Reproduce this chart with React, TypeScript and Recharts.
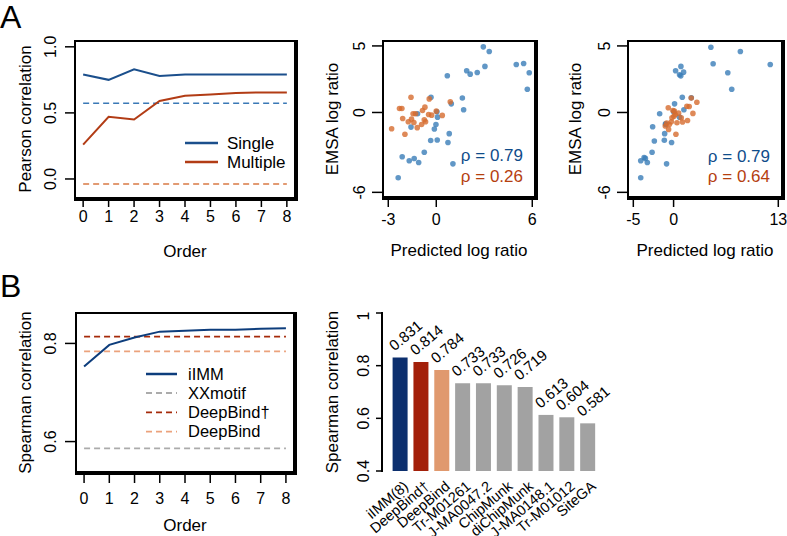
import React from "react";
import {
  LineChart,
  Line,
  ScatterChart,
  Scatter,
  BarChart,
  Bar,
  Cell,
  XAxis,
  YAxis,
  ReferenceLine,
  LabelList,
} from "recharts";

const FONT = "'Liberation Sans', Arial, Helvetica, sans-serif";

// ---- Panel A, left: Pearson correlation by order ----
const orders = [0, 1, 2, 3, 4, 5, 6, 7, 8];
const pearsonSingle = [0.79, 0.75, 0.83, 0.78, 0.79, 0.79, 0.79, 0.79, 0.79];
const pearsonMultiple = [0.26, 0.47, 0.45, 0.59, 0.63, 0.64, 0.65, 0.655, 0.655];
const pearsonSingleRef = 0.573;
const pearsonMultipleRef = -0.038;
const pearsonTicks = [0, 0.5, 1];

// ---- Panel A, middle scatter ----
const a2SingleX = [2.94, 3.31, 3.04, 1.9, 2.12, 2.56, 0.69, 5.0, 5.46, 5.81, 5.69, 1.63, 1.71, 0.94, -0.33, 0.04, 0.08, -0.02, -0.12, -1.17, -1.58, 0.81, 0.73, 0.06, -0.35, -0.75, -2.13, -1.69, -1.38, -1.1, 1.04, -2.38];
const a2SingleY = [4.93, 4.58, 3.46, 3.13, 2.88, 3.0, 2.76, 3.6, 3.68, 2.98, 1.74, 1.09, 0.2, 0.65, 1.14, 0.05, -0.35, -0.9, -1.24, -0.1, -1.1, -1.59, -2.26, -2.07, -2.11, -2.99, -3.33, -3.63, -3.46, -3.76, -3.86, -4.9];
const a2MultiX = [-2.79, -2.3, -2.15, -1.58, -2.1, -1.96, -1.75, -1.45, -1.55, -1.4, -1.19, -0.92, -0.67, -0.86, -0.71, -0.48, -0.29, -0.44, 0.375, 0.875, -1.3, -0.75, 0.0];
const a2MultiY = [-1.22, 0.3, 0.3, 1.14, -0.45, -1.64, -0.7, -0.1, -0.5, -0.75, -1.14, -0.9, -0.7, 0.15, 0.4, -0.15, -0.2, 1.02, -0.22, 0.8, -0.1, -0.55, 0.1];
const a2XTicks = [-3, 0, 6];

// ---- Panel A, right scatter ----
const a3SingleX = [4.63, 8.29, 4.91, 12.0, 6.73, 7.22, 0.91, 0.25, 1.24, 0.74, 0.9, 1.08, 0.12, -1.73, 0.0, 1.28, 0.74, -2.6, -0.99, -1.11, -1.15, -2.39, -0.25, -2.67, -4.08, -3.66, -3.26, -0.87, -4.08, -3.5, -1.0, 2.2];
const a3SingleY = [4.9, 4.58, 3.66, 3.6, 2.98, 1.74, 3.46, 3.13, 3.03, 2.84, 2.75, 1.14, 0.65, -0.1, 0.05, 0.2, -0.35, -1.07, -0.9, -1.59, -2.09, -2.14, -2.26, -2.99, -3.63, -3.38, -3.76, -3.86, -4.9, -3.45, -0.85, 1.1];
const a3MultiX = [2.19, 2.89, 1.94, -0.66, -0.08, 0.21, 0.62, 2.4, 1.73, 1.11, 0.42, -0.28, -0.2, -0.53, -1.03, 0.29, -0.62, 0.04, 0.95, 1.65, -0.85, 0.1];
const a3MultiY = [1.09, 0.77, 0.45, 0.35, 0.15, -0.15, -0.05, -0.07, -0.6, -0.72, -0.77, -0.7, -0.4, -0.9, -1.02, -1.64, -1.27, -0.28, -0.4, 0.47, -0.8, 0.1];
const a3XTicks = [-5, 0, 13];
const emsaTicks = [-6, 0, 5];

// ---- Panel B, left: Spearman correlation by order ----
const iimm = [0.753, 0.797, 0.812, 0.824, 0.826, 0.828, 0.828, 0.83, 0.831];
const xxmotifRef = 0.586;
const deepBindDaggerRef = 0.814;
const deepBindRef = 0.784;
const spearmanLineTicks = [0.6, 0.8];

// ---- Panel B, right: bars ----
const methods = ["iIMM(8)", "DeepBind†", "DeepBind", "Tr-M01261", "J-MA0047.2", "ChipMunk", "diChipMunk", "J-MA0148.1", "Tr-M01012", "SiteGA"];
const spearman = [0.831, 0.814, 0.784, 0.733, 0.733, 0.726, 0.719, 0.613, 0.604, 0.581];
const barColors = ["#0c2f6e", "#a3200a", "#e0996e", "#a2a2a2", "#a2a2a2", "#a2a2a2", "#a2a2a2", "#a2a2a2", "#a2a2a2", "#a2a2a2"];
const barTicks = [0.4, 0.6, 0.8, 1];

const BLUE = "#1b4f8c";
const RED = "#b23c15";
const BLUE_DASH = "#3a79b6";
const RED_DASH = "#d97a44";
const DOT_BLUE = "#3a7db8";
const DOT_RED = "#d66b2e";

const YW = 60;
const MT = 6;
const MR = 6;

type Box = { x0: number; y0: number; x1: number; y1: number };
type Dom = [number, number];
const a1Box: Box = { x0: 75, y0: 41, x1: 295, y1: 198 };
const a2Box: Box = { x0: 383, y0: 41, x1: 535, y1: 197 };
const a3Box: Box = { x0: 628, y0: 41, x1: 782, y1: 197 };
const b1Box: Box = { x0: 76, y0: 313, x1: 294, y1: 472 };
const b2Box: Box = { x0: 382, y0: 313, x1: 598, y1: 471 };

const orderDomain: Dom = [-0.32, 8.32];
const pearsonDomain: Dom = [-0.144, 1.044];
const emsaDomain: Dom = [-6.35, 5.37];
const a2XDomain: Dom = [-3.33, 6.17];
const a3XDomain: Dom = [-5.66, 13.46];
const spearmanDomain: Dom = [0.538, 0.862];
const barDomain: Dom = [0.4, 1];

function frame(b: Box, xh: number, mr = MR) {
  return {
    pos: { position: "absolute" as const, left: b.x0 - YW, top: b.y0 - MT },
    width: b.x1 - b.x0 + YW + mr,
    height: b.y1 - b.y0 + MT + xh,
    margin: { top: MT, right: mr, left: 0, bottom: 0 },
  };
}

const zip = (xs: number[], ys: number[]) => xs.map((x, i) => ({ x, y: ys[i] }));
const a2Single = zip(a2SingleX, a2SingleY);
const a2Multi = zip(a2MultiX, a2MultiY);
const a3Single = zip(a3SingleX, a3SingleY);
const a3Multi = zip(a3MultiX, a3MultiY);
const pearsonData = orders.map((o, i) => ({ order: o, single: pearsonSingle[i], multiple: pearsonMultiple[i] }));
const iimmData = orders.map((o, i) => ({ order: o, iimm: iimm[i] }));
const barData = methods.map((m, i) => ({ name: m, value: spearman[i] }));

// rotated y tick labels, like R's default
const vTick = (gap: number, tickSize: number, fmt: (v: number) => string) => (props: any) => {
  const cx = props.x - (gap - tickSize);
  const cy = props.y;
  return (
    <text x={cx} y={cy} transform={`rotate(-90 ${cx} ${cy})`} textAnchor="middle" dy="0.35em" fontSize={16} fill="#000" fontFamily={FONT}>
      {fmt(props.payload.value)}
    </text>
  );
};
const pearsonTick = vTick(25, 10, (v) => v.toFixed(1));
const emsaTick = vTick(24, 11, (v) => String(v));
const spearmanTick = vTick(26, 11, (v) => v.toFixed(1));
const barYTick = vTick(19, 6, (v) => (v === 1 ? "1" : v.toFixed(1)));

const dot = (color: string) => (p: any) => <circle cx={p.cx} cy={p.cy} r={2.8} fill={color} fillOpacity={0.8} />;
const blueDot = dot(DOT_BLUE);
const redDot = dot(DOT_RED);

const xTickStyle = { fontSize: 16, fill: "#000", fontFamily: FONT };
const tickLineStyle = { stroke: "#000", strokeWidth: 1.5 };

const SlantTick = (props: any) => {
  const px = props.x + 6;
  const py = props.y + 13;
  return (
    <text x={px} y={py} transform={`rotate(-40 ${px} ${py})`} textAnchor="end" dy="0.35em" fontSize={14.5} fill="#000" fontFamily={FONT}>
      {props.payload.value}
    </text>
  );
};

const BarValue = (props: any) => {
  const px = props.x + 2;
  const py = props.y - 6;
  return (
    <text x={px} y={py} transform={`rotate(-40 ${px} ${py})`} fontSize={15} fill="#000" fontFamily={FONT}>
      {Number(props.value).toFixed(3)}
    </text>
  );
};

const fA1 = frame(a1Box, 50);
const fA2 = frame(a2Box, 50);
const fA3 = frame(a3Box, 50);
const fB1 = frame(b1Box, 60);
const fB2 = frame(b2Box, 65, 60);

function PearsonPanel() {
  const f = fA1;
  return (
    <div style={f.pos}>
      <LineChart width={f.width} height={f.height} margin={f.margin} data={pearsonData}>
        <XAxis dataKey="order" type="number" domain={orderDomain} allowDataOverflow ticks={orders} axisLine={false} tickLine={tickLineStyle} tickSize={9} tickMargin={4} tick={xTickStyle} height={50} />
        <YAxis type="number" domain={pearsonDomain} allowDataOverflow ticks={pearsonTicks} axisLine={false} tickLine={tickLineStyle} tickSize={10} tickMargin={0} tick={pearsonTick} width={YW} />
        <ReferenceLine segment={[{ x: 0, y: pearsonSingleRef }, { x: 8, y: pearsonSingleRef }]} stroke={BLUE_DASH} strokeWidth={1.5} strokeDasharray="6 4" />
        <ReferenceLine segment={[{ x: 0, y: pearsonMultipleRef }, { x: 8, y: pearsonMultipleRef }]} stroke={RED_DASH} strokeWidth={1.5} strokeDasharray="6 4" />
        <Line type="linear" dataKey="single" stroke={BLUE} strokeWidth={2} dot={false} isAnimationActive={false} />
        <Line type="linear" dataKey="multiple" stroke={RED} strokeWidth={2} dot={false} isAnimationActive={false} />
      </LineChart>
    </div>
  );
}

function ScatterPanel({ f, xd, xticks, single, multi }: { f: ReturnType<typeof frame>; xd: Dom; xticks: number[]; single: { x: number; y: number }[]; multi: { x: number; y: number }[] }) {
  return (
    <div style={f.pos}>
      <ScatterChart width={f.width} height={f.height} margin={f.margin}>
        <XAxis dataKey="x" type="number" domain={xd} allowDataOverflow ticks={xticks} axisLine={false} tickLine={tickLineStyle} tickSize={10} tickMargin={7} tick={xTickStyle} height={50} />
        <YAxis dataKey="y" type="number" domain={emsaDomain} allowDataOverflow ticks={emsaTicks} axisLine={false} tickLine={tickLineStyle} tickSize={11} tickMargin={0} tick={emsaTick} width={YW} />
        <Scatter data={single} shape={blueDot} isAnimationActive={false} />
        <Scatter data={multi} shape={redDot} isAnimationActive={false} />
      </ScatterChart>
    </div>
  );
}

const spearmanRefs = [
  { v: xxmotifRef, c: "#ababab" },
  { v: deepBindDaggerRef, c: "#a52a0a" },
  { v: deepBindRef, c: "#eba27c" },
];

function SpearmanPanel() {
  const f = fB1;
  return (
    <div style={f.pos}>
      <LineChart width={f.width} height={f.height} margin={f.margin} data={iimmData}>
        <XAxis dataKey="order" type="number" domain={orderDomain} allowDataOverflow ticks={orders} axisLine={false} tickLine={tickLineStyle} tickSize={11} tickMargin={10} tick={xTickStyle} height={60} />
        <YAxis type="number" domain={spearmanDomain} allowDataOverflow ticks={spearmanLineTicks} axisLine={false} tickLine={tickLineStyle} tickSize={11} tickMargin={0} tick={spearmanTick} width={YW} />
        {spearmanRefs.map((r) => (
          <ReferenceLine key={r.v} segment={[{ x: 0, y: r.v }, { x: 8, y: r.v }]} stroke={r.c} strokeWidth={1.8} strokeDasharray="6 4" />
        ))}
        <Line type="linear" dataKey="iimm" stroke="#0d3d7c" strokeWidth={2} dot={false} isAnimationActive={false} />
      </LineChart>
    </div>
  );
}

function BarPanel() {
  const f = fB2;
  return (
    <div style={f.pos}>
      <BarChart width={f.width} height={f.height} margin={f.margin} data={barData}>
        <XAxis dataKey="name" type="category" interval={0} axisLine={false} tickLine={false} tickSize={0} tickMargin={0} tick={SlantTick} padding={{ left: 7.6, right: 0 }} height={65} />
        <YAxis type="number" domain={barDomain} allowDataOverflow ticks={barTicks} axisLine={false} tickLine={tickLineStyle} tickSize={6} tickMargin={0} tick={barYTick} width={YW} />
        <Bar dataKey="value" barSize={15} isAnimationActive={false}>
          {barData.map((d, i) => (
            <Cell key={d.name} fill={barColors[i]} />
          ))}
          <LabelList dataKey="value" content={BarValue} />
        </Bar>
      </BarChart>
    </div>
  );
}

// plot frames drawn as bordered boxes above the charts
function Frames() {
  const boxes = [a1Box, a2Box, a3Box, b1Box];
  return (
    <>
      {boxes.map((b, i) => (
        <div
          key={i}
          style={{ position: "absolute", left: b.x0 - 1, top: b.y0 - 1, width: b.x1 - b.x0, height: b.y1 - b.y0, border: "2px solid #000", zIndex: 5, pointerEvents: "none" }}
        />
      ))}
      <div style={{ position: "absolute", left: b2Box.x0 - 1, top: b2Box.y0 - 1, width: 2, height: b2Box.y1 - b2Box.y0 + 2, background: "#000", zIndex: 5 }} />
    </>
  );
}

function Overlay() {
  const t = { fontFamily: FONT, fill: "#000" };
  const vt = (x: number, y: number, s: string, size = 17) => (
    <text x={x} y={y} transform={`rotate(-90 ${x} ${y})`} textAnchor="middle" dy="0.35em" fontSize={size} {...t}>
      {s}
    </text>
  );
  const ht = (x: number, y: number, s: string, size = 17) => (
    <text x={x} y={y} textAnchor="middle" dy="0.35em" fontSize={size} {...t}>
      {s}
    </text>
  );
  const leg = (x0: number, x1: number, tx: number, y: number, color: string, label: string, dash?: string, size = 17) => (
    <g key={label}>
      <line x1={x0} x2={x1} y1={y} y2={y} stroke={color} strokeWidth={dash ? 1.8 : 2.5} strokeDasharray={dash} />
      <text x={tx} y={y} dy="0.35em" fontSize={size} {...t}>
        {label}
      </text>
    </g>
  );
  const boxes = [a1Box, a2Box, a3Box, b1Box];
  return (
    <svg width={787} height={536} style={{ position: "absolute", left: 0, top: 0, pointerEvents: "none", zIndex: 4 }}>
      {boxes.map((b, i) => (
        <path key={`f${i}`} d={`M${b.x0},${b.y0} H${b.x1} V${b.y1} H${b.x0} Z`} fill="none" stroke="#000" strokeWidth={2} />
      ))}
      <text x={0} y={28} fontSize={32} {...t}>A</text>
      <text x={0} y={297} fontSize={32} {...t}>B</text>

      {vt(25, 119, "Pearson correlation")}
      {ht(185, 251, "Order")}
      {leg(185, 218, 227, 143, BLUE, "Single")}
      {leg(185, 218, 227, 162, RED, "Multiple")}

      {vt(332, 119, "EMSA log ratio")}
      {ht(459, 250, "Predicted log ratio")}
      <text x={523} y={155} textAnchor="end" dy="0.35em" fontSize={17} fontFamily={FONT} fill="#0f4c8a">ρ = 0.79</text>
      <text x={523} y={176.5} textAnchor="end" dy="0.35em" fontSize={17} fontFamily={FONT} fill="#b5400f">ρ = 0.26</text>

      {vt(575, 119, "EMSA log ratio")}
      {ht(705, 250, "Predicted log ratio")}
      <text x={770} y={156.5} textAnchor="end" dy="0.35em" fontSize={17} fontFamily={FONT} fill="#0f4c8a">ρ = 0.79</text>
      <text x={770} y={176.5} textAnchor="end" dy="0.35em" fontSize={17} fontFamily={FONT} fill="#b5400f">ρ = 0.64</text>

      {vt(25, 392.5, "Spearman correlation")}
      {ht(185, 525, "Order")}
      {leg(146, 177, 188, 374, "#0d3d7c", "iIMM", undefined, 16.5)}
      {leg(146, 177, 188, 393, "#ababab", "XXmotif", "6 4", 16.5)}
      {leg(146, 177, 188, 412.3, "#a52a0a", "DeepBind†", "6 4", 16.5)}
      {leg(146, 177, 188, 431.6, "#eba27c", "DeepBind", "6 4", 16.5)}

      {vt(331.7, 392, "Spearman correlation")}
    </svg>
  );
}

export default function App() {
  return (
    <div style={{ position: "absolute", left: 0, top: 0, width: 787, height: 536, background: "#fff", overflow: "hidden", fontFamily: FONT }}>
      <PearsonPanel />
      <ScatterPanel f={fA2} xd={a2XDomain} xticks={a2XTicks} single={a2Single} multi={a2Multi} />
      <ScatterPanel f={fA3} xd={a3XDomain} xticks={a3XTicks} single={a3Single} multi={a3Multi} />
      <SpearmanPanel />
      <BarPanel />
      <Overlay />
      <Frames />
    </div>
  );
}
